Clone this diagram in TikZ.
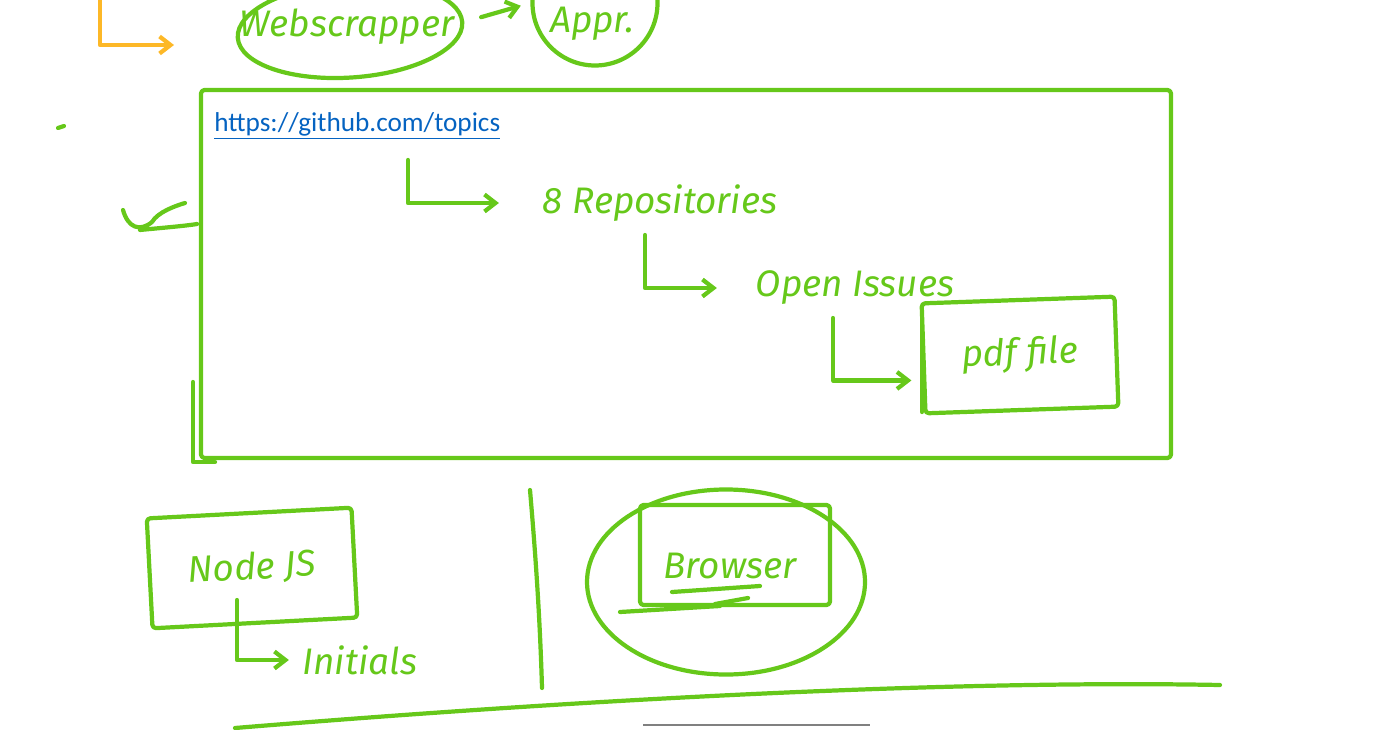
\documentclass[tikz,border=0pt]{standalone}
\usepackage{fontspec}
\setmainfont{Fira Sans}
\newfontfamily\linkfont{Carlito}
\usetikzlibrary{positioning,arrows.meta,shapes.geometric,calc}
\definecolor{inkgreen}{HTML}{66C81A}
\definecolor{inkorange}{HTML}{FDB827}
\definecolor{linkblue}{HTML}{0563C1}

\begin{document}
\begin{tikzpicture}[x=0.2mm, y=-0.2mm,
    ink/.style={draw=inkgreen, line width=2.4pt, line cap=round, line join=round},
    inkArrow/.style={ink, -{Straight Barb[length=2.2mm, width=3.4mm]}},
    hand/.style={text=inkgreen, font=\fontsize{21}{24}\selectfont\itshape, inner sep=2pt},
    inkBox/.style={ink, rectangle, rounded corners=2pt},
    inkRing/.style={ink, ellipse}
]
    \useasboundingbox (0,0) rectangle (1392,730);
    \clip (0,0) rectangle (1392,730);

    % top row
    \coordinate (oStart) at (100,-5);
    \coordinate (oEnd) at (174,45);
    \draw[ink, draw=inkorange, -{Straight Barb[length=2.2mm, width=3.4mm]}] (oStart) |- (oEnd);

    \node[inkRing, minimum width=4.5cm, minimum height=1.9cm, rotate=4] (web) at (350,30) {};
    \node[hand] (webTxt) at (347,27) {Webscrapper};
    \node[ink, circle, minimum size=2.5cm] (appr) at (595,3) {};
    \node[hand] (apprTxt) at (592,24) {Appr.};
    \draw[inkArrow, shorten <=3.5mm, shorten >=2mm] (web.east) -- (appr.west);

    % github topics frame
    \node[inkBox, minimum width=19.4cm, minimum height=7.36cm] (topics) at (686,274) {};
    \draw[ink] (193,382) -- (193,462) -- (215,462);
    \node[anchor=west, text=linkblue, font=\linkfont\fontsize{15.5}{18}\selectfont, inner sep=0pt]
        (link) at (214,126) {\underline{https://github.com/topics}};

    \node[hand] (repo) at (660,203) {8 Repositories};
    \node[hand] (issues) at (855,288) {Open Issues};
    \node[inkBox, hand, minimum width=3.86cm, minimum height=2.2cm, rotate=2] (pdf) at (1020,355) {pdf file};
    \draw[ink] (922,318) -- (922,412);

    \coordinate (l1) at (408,160);
    \coordinate (l2) at (645,235);
    \coordinate (l3) at (833,318);
    \draw[inkArrow, shorten >=8mm] (l1) |- (repo.west);
    \draw[inkArrow, shorten >=7mm] (l2) |- (issues.west);
    \draw[inkArrow, shorten >=2mm] (l3) |- ($(pdf.west)+(0,22)$);

    % scribbles at the left
    \draw[ink] (58,128) -- (64,126);
    \draw[ink] (123,210) .. controls (128,228) and (140,232) .. (152,222)
        .. controls (158,212) and (175,206) .. (185,203);
    \draw[ink] (140,230) .. controls (160,228) and (185,226) .. (197,224);

    % bottom row
    \node[inkBox, hand, minimum width=4.1cm, minimum height=2.2cm, rotate=3] (node) at (252,568) {Node JS};
    \node[hand] (initials) at (360,660) {Initials};
    \coordinate (l4) at (237,600);
    \draw[inkArrow, shorten >=2mm] (l4) |- (initials.west);

    \draw[ink] (530,490) .. controls (536,560) and (540,620) .. (542,688);

    \node[inkRing, minimum width=5.56cm, minimum height=3.7cm] (ring) at (726,582) {};
    \node[inkBox, minimum width=3.8cm, minimum height=2.0cm] (browserBox) at (735,555) {};
    \node[hand] (browser) at (730,566) {Browser};
    \draw[ink] (620,612) -- (720,606);
    \draw[ink] (672,592) -- (760,586);
    \draw[ink] (715,604) -- (748,598);

    \draw[ink] (235,728) .. controls (600,698) and (960,680) .. (1220,685);
    \draw[gray, line width=1.5pt] (643,725) -- (870,725);
\end{tikzpicture}
\end{document}
